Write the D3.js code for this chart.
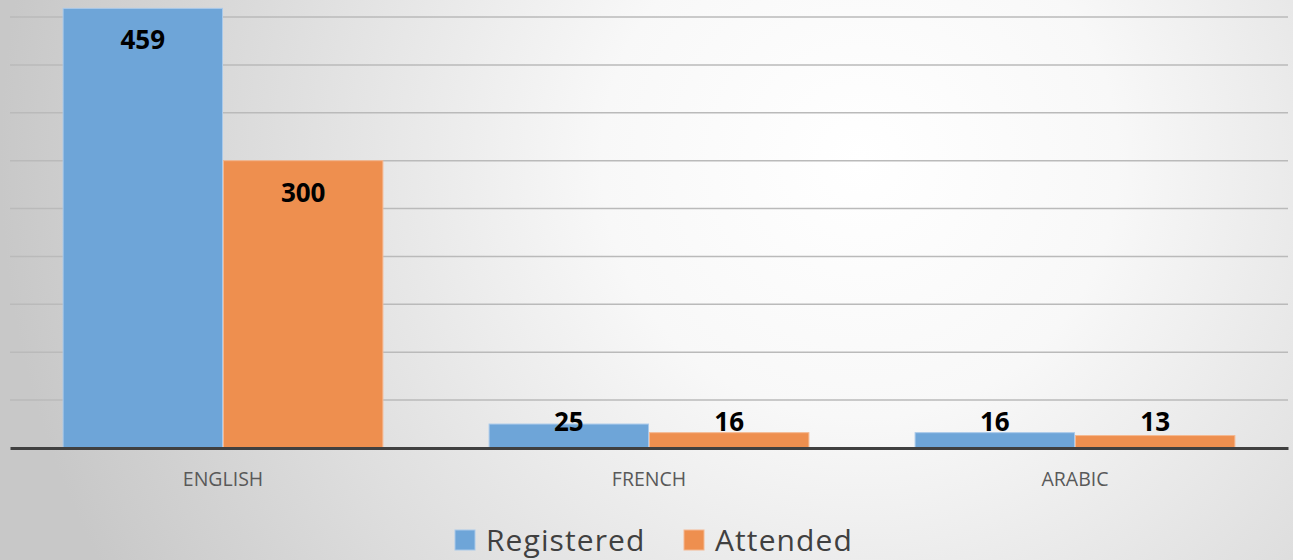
<!DOCTYPE html>
<html><head><meta charset="utf-8">
<script src="https://cdn.jsdelivr.net/npm/d3@7"></script>
<style>html,body{margin:0;padding:0;overflow:hidden;background:#fff}</style>
</head><body>
<svg id="chart" width="1293" height="560"></svg>
<script>
const categories = ["ENGLISH", "FRENCH", "ARABIC"];
const seriesNames = ["Registered", "Attended"];
const registered = [459, 25, 16];
const attended = [300, 16, 13];
const gridTicks = [50, 100, 150, 200, 250, 300, 350, 400, 450];

const colors = ["#6ea5d8", "#ee8f4f"];
const W = 1293, H = 560;
const svg = d3.select("#chart");
const defs = svg.append("defs");
const rg = defs.append("radialGradient").attr("id","bg")
  .attr("gradientUnits","userSpaceOnUse").attr("cx",860).attr("cy",160).attr("r",860);
rg.append("stop").attr("offset","0%").attr("stop-color","#ffffff");
rg.append("stop").attr("offset","30%").attr("stop-color","#f8f8f8");
rg.append("stop").attr("offset","100%").attr("stop-color","#c8c8c8");
svg.append("rect").attr("width",W).attr("height",H).attr("fill","url(#bg)");

const left = 10, right = 1288, baseY = 448;
const y = d3.scaleLinear().domain([0, 450]).range([baseY, 17]);
const x0 = d3.scaleBand().domain(categories).range([left, right]).paddingInner(0).paddingOuter(0);
const x1 = d3.scaleBand().domain(seriesNames).range([0, x0.bandwidth()]).paddingInner(0).paddingOuter(0.328);

// gridlines
svg.append("g").selectAll("line").data(gridTicks).join("line")
  .attr("x1", left).attr("x2", right)
  .attr("y1", d => y(d)).attr("y2", d => y(d))
  .attr("stroke", "#bababa").attr("stroke-width", 1.5);

const data = categories.map((c, i) => ({cat: c, vals: [registered[i], attended[i]]}));

const groups = svg.append("g").selectAll("g").data(data).join("g")
  .attr("transform", d => `translate(${x0(d.cat)},0)`);

groups.selectAll("rect").data(d => d.vals.map((v, j) => ({v, s: seriesNames[j], j})))
  .join("rect")
  .attr("x", d => x1(d.s) + 0.5)
  .attr("width", x1.bandwidth() - 1)
  .attr("y", d => y(d.v))
  .attr("height", d => baseY - y(d.v))
  .attr("fill", d => colors[d.j])
  .attr("stroke", d => d.j === 0 ? "#a9c9ea" : "#f5b891")
  .attr("stroke-width", 1);

groups.selectAll("text").data(d => d.vals.map((v, j) => ({v, s: seriesNames[j], j})))
  .join("text")
  .attr("x", d => x1(d.s) + x1.bandwidth() / 2)
  .attr("y", d => Math.min(y(d.v) + 31, 421))
  .attr("text-anchor", "middle").attr("dominant-baseline", "central")
  .attr("font-family", "'Open Sans', sans-serif").attr("font-weight", "bold")
  .attr("font-size", 26).attr("fill", "#000")
  .text(d => d.v);

// baseline axis
const xAxis = d3.axisBottom(x0).tickSize(0).tickPadding(24);
const ax = svg.append("g").attr("transform", `translate(0,${baseY})`).call(xAxis);
ax.select(".domain").attr("stroke", "#404040").attr("stroke-width", 3);
ax.selectAll("text").attr("font-family", "'Open Sans', sans-serif")
  .attr("font-size", 19.5).attr("fill", "#595959");

// legend
const legendItems = [{name: seriesNames[0], x: 455}, {name: seriesNames[1], x: 684}];
const lg = svg.append("g").selectAll("g").data(legendItems).join("g")
  .attr("transform", d => `translate(${d.x},530)`);
lg.append("rect").attr("width", 20).attr("height", 20)
  .attr("fill", (d, i) => colors[i])
  .attr("stroke", (d, i) => i === 0 ? "#a9c9ea" : "#f5b891").attr("stroke-width", 1);
lg.append("text").attr("x", 31).attr("y", 9).attr("dominant-baseline", "central")
  .attr("font-family", "'Open Sans', sans-serif").attr("font-size", 30).attr("fill", "#404040")
  .attr("letter-spacing", 1.1)
  .text(d => d.name);
</script>
</body></html>
